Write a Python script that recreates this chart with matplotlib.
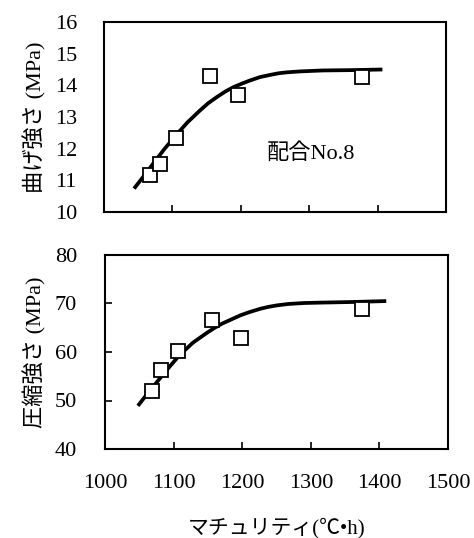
import matplotlib.pyplot as plt

# measured points (maturity, strength)
flex_x = [1067, 1082, 1105, 1155, 1196, 1377]
flex_y = [11.16, 11.51, 12.35, 14.29, 13.71, 14.27]
comp_x = [1069, 1081, 1106, 1156, 1198, 1375]
comp_y = [52.0, 56.3, 60.2, 66.5, 62.9, 68.8]

# fitted curves
flex_curve_x = [1044, 1058, 1072, 1088, 1105, 1122, 1140, 1152, 1165, 1177, 1189,
                1201, 1213, 1228, 1243, 1255, 1267, 1287, 1320, 1360, 1407]
flex_curve_y = [10.74, 11.13, 11.53, 11.98, 12.42, 12.83, 13.20, 13.43, 13.63, 13.80, 13.94,
                14.05, 14.15, 14.26, 14.33, 14.38, 14.41, 14.44, 14.47, 14.48, 14.50]
comp_curve_x = [1048, 1059, 1070, 1090, 1109, 1128, 1148, 1160, 1170, 1187, 1198,
                1210, 1226, 1238, 1250, 1267, 1290, 1320, 1357, 1410]
comp_curve_y = [48.9, 50.9, 52.8, 56.3, 59.4, 61.9, 63.9, 65.0, 65.8, 66.9, 67.6,
                68.2, 68.9, 69.3, 69.6, 69.9, 70.1, 70.2, 70.3, 70.5]

fonts = ['Liberation Serif', 'Noto Sans CJK JP']
plt.rcParams['font.family'] = fonts
plt.rcParams['font.size'] = 16

fig = plt.figure(figsize=(4.74, 5.38), dpi=100)
W, H = 474, 538
ax1 = fig.add_axes([104 / W, 1 - 212 / H, 342 / W, 190 / H])
ax2 = fig.add_axes([105 / W, 1 - 449 / H, 343 / W, 194 / H])

for ax in (ax1, ax2):
    ax.set_xlim(1000, 1500)
    ax.set_xticks([1000, 1100, 1200, 1300, 1400, 1500])
    for s in ax.spines.values():
        s.set_linewidth(1.5)
    ax.tick_params(direction='in', length=5, width=1.2, labelsize=16)

# ---------------- flexural strength ----------------
ax1.plot(flex_curve_x, flex_curve_y, color='black', lw=2.7, solid_capstyle='butt')
ax1.plot(flex_x, flex_y, 's', ms=10, mfc='white', mec='black', mew=1.3)
ax1.set_ylim(10, 16)
ax1.set_yticks(range(10, 17))
ax1.tick_params(axis='x', labelbottom=False)
ax1.tick_params(axis='y', length=0, pad=19.5)
ax1.set_ylabel('曲げ強さ (MPa)', fontsize=16, labelpad=6)
ax1.text(1238, 11.85, '配合No.8', fontsize=16, ha='left', va='center')

# ---------------- compressive strength ----------------
ax2.plot(comp_curve_x, comp_curve_y, color='black', lw=2.7, solid_capstyle='butt')
ax2.plot(comp_x, comp_y, 's', ms=10, mfc='white', mec='black', mew=1.3)
ax2.set_ylim(40, 80)
ax2.set_yticks(range(40, 81, 10))
ax2.tick_params(axis='y', pad=20)
ax2.tick_params(axis='x', pad=18)
ax2.set_ylabel('圧縮強さ (MPa)', fontsize=16, labelpad=6)
ax2.set_xlabel('マチュリティ(℃•h)', fontsize=15, labelpad=18)

fig.savefig('out.png', dpi=100)
